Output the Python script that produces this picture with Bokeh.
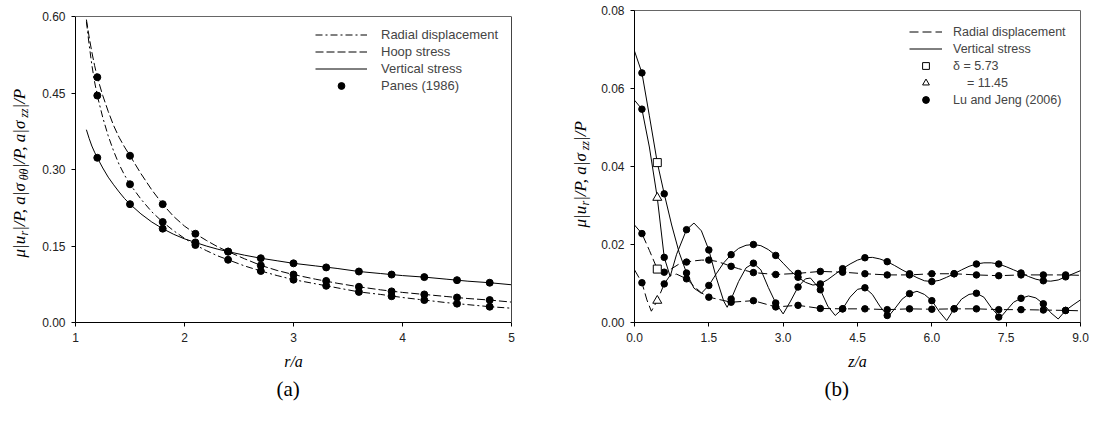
import math
from bokeh.plotting import figure
from bokeh.layouts import row
from bokeh.models import (Range1d, FixedTicker, NumeralTickFormatter, Label, Title,
                          Legend, LegendItem, LinearAxis, Span)
from bokeh.embed import file_html
from bokeh.resources import INLINE

# ---------------- Panel (a) data ----------------
r_curve = [1.1, 1.125, 1.15, 1.175, 1.2, 1.25, 1.3, 1.35, 1.4, 1.45, 1.5, 1.6, 1.7, 1.8,
           1.9, 2.0, 2.1, 2.2, 2.3, 2.4, 2.55, 2.7, 2.85, 3.0, 3.2, 3.4, 3.6, 3.8, 4.0,
           4.2, 4.4, 4.6, 4.8, 5.0]
hoop_curve = [0.594, 0.560, 0.530, 0.504, 0.481, 0.445, 0.414, 0.386, 0.363, 0.344, 0.327,
              0.292, 0.260, 0.232, 0.208, 0.189, 0.174, 0.161, 0.149, 0.139, 0.125, 0.112,
              0.102, 0.094, 0.085, 0.077, 0.070, 0.064, 0.059, 0.055, 0.051, 0.047, 0.044,
              0.040]
radial_curve = [0.590, 0.545, 0.505, 0.472, 0.445, 0.402, 0.366, 0.336, 0.310, 0.289, 0.271,
                0.242, 0.217, 0.197, 0.180, 0.165, 0.152, 0.141, 0.131, 0.123, 0.111, 0.101,
                0.092, 0.084, 0.076, 0.068, 0.060, 0.055, 0.049, 0.044, 0.039, 0.035, 0.031,
                0.028]
vertical_curve = [0.378, 0.361, 0.346, 0.334, 0.323, 0.303, 0.285, 0.270, 0.256, 0.243, 0.232,
                  0.213, 0.197, 0.184, 0.173, 0.164, 0.157, 0.150, 0.144, 0.139, 0.132, 0.126,
                  0.121, 0.116, 0.111, 0.106, 0.100, 0.096, 0.092, 0.089, 0.085, 0.081, 0.078,
                  0.074]
r_dots = [1.2, 1.5, 1.8, 2.1, 2.4, 2.7, 3.0, 3.3, 3.6, 3.9, 4.2, 4.5, 4.8]
hoop_dots = [0.481, 0.327, 0.232, 0.174, 0.139, 0.112, 0.094, 0.0815, 0.070, 0.061, 0.055, 0.049, 0.044]
radial_dots = [0.445, 0.271, 0.197, 0.152, 0.123, 0.101, 0.084, 0.072, 0.060, 0.0515, 0.044, 0.037, 0.031]
vertical_dots = [0.323, 0.232, 0.184, 0.157, 0.139, 0.126, 0.116, 0.108, 0.100, 0.094, 0.089, 0.083, 0.078]

a_xticks = [1, 2, 3, 4, 5]
a_yticks = [0.0, 0.15, 0.30, 0.45, 0.60]

# ---------------- Panel (b) data ----------------
s1_z = [0.0, 0.15, 0.3, 0.46, 0.6, 0.75, 0.9, 1.05, 1.2, 1.35, 1.5, 1.65, 1.8, 1.95, 2.1, 2.25,
        2.4, 2.55, 2.7, 2.85, 3.0, 3.15, 3.3, 3.45, 3.6, 3.75, 3.9, 4.05, 4.2, 4.35, 4.5, 4.65,
        4.8, 4.95, 5.1, 5.25, 5.4, 5.55, 5.7, 5.85, 6.0, 6.15, 6.3, 6.45, 6.6, 6.75, 6.9, 7.05,
        7.2, 7.35, 7.5, 7.65, 7.8, 7.95, 8.1, 8.25, 8.4, 8.55, 8.7, 8.85, 9.0]
s1_v = [0.0696, 0.064, 0.053, 0.041, 0.033, 0.025, 0.018, 0.0127, 0.0088, 0.0075,
        0.0095, 0.0125, 0.0153, 0.0174, 0.019, 0.0198, 0.0200, 0.0197, 0.0187, 0.0172,
        0.0152, 0.0132, 0.0116, 0.0103, 0.0096, 0.0099, 0.011, 0.0124, 0.0138, 0.015,
        0.016, 0.0166, 0.0167, 0.0163, 0.0156, 0.0146, 0.0135, 0.0125, 0.0115, 0.0107,
        0.0105, 0.0108, 0.0116, 0.0125, 0.0135, 0.0144, 0.015, 0.0153, 0.0153, 0.015,
        0.0143, 0.0135, 0.0127, 0.0118, 0.0111, 0.0107, 0.0106, 0.0109, 0.0117, 0.0125, 0.0133]
s2_z = [0.0, 0.15, 0.3, 0.46, 0.6, 0.72, 0.85, 1.05, 1.2, 1.35, 1.5, 1.65, 1.8, 1.87, 1.95, 2.1,
        2.25, 2.4, 2.55, 2.7, 2.85, 3.0, 3.15, 3.3, 3.45, 3.55, 3.75, 3.9, 4.05, 4.2, 4.35, 4.5,
        4.65, 4.8, 4.95, 5.12, 5.25, 5.4, 5.55, 5.7, 5.85, 6.0, 6.15, 6.3, 6.45, 6.6, 6.75, 6.9,
        7.05, 7.2, 7.38, 7.5, 7.65, 7.8, 7.95, 8.1, 8.25, 8.4, 8.55, 8.7, 8.85, 9.0]
s2_v = [0.0570, 0.0547, 0.045, 0.032, 0.0167, 0.0118, 0.0175, 0.0238, 0.0255, 0.0235,
        0.0186, 0.0115, 0.0055, 0.0039, 0.006, 0.0105, 0.014, 0.0152, 0.0135, 0.009,
        0.005, 0.0022, 0.0055, 0.0091, 0.0112, 0.0114, 0.0084, 0.0042, 0.0018, 0.0035,
        0.0065, 0.0085, 0.0089, 0.0072, 0.0042, 0.0015, 0.0035, 0.006, 0.0074, 0.008,
        0.0072, 0.0056, 0.0028, 0.0005, 0.0035, 0.006, 0.0072, 0.0075, 0.0065, 0.0038,
        0.0012, 0.003, 0.0052, 0.0062, 0.0068, 0.0063, 0.0048, 0.0025, 0.0009, 0.0031,
        0.0045, 0.0058]
d1_z = [0.0, 0.15, 0.3, 0.46, 0.6, 0.75, 0.9, 1.05, 1.2, 1.35, 1.5, 1.65, 1.8, 1.95, 2.1, 2.4,
        2.85, 3.3, 3.75, 4.2, 4.65, 5.1, 5.55, 6.0, 6.45, 6.9, 7.35, 7.8, 8.25, 8.7, 9.0]
d1_v = [0.025, 0.0228, 0.0185, 0.0137, 0.0129, 0.0138, 0.015, 0.0155, 0.0158, 0.016,
        0.016, 0.0157, 0.0151, 0.0144, 0.0138, 0.0128, 0.0123, 0.0126, 0.0131, 0.0129,
        0.0125, 0.0122, 0.0122, 0.0125, 0.0125, 0.0122, 0.012, 0.0122, 0.0122, 0.0122, 0.0121]
d2_z = [0.0, 0.15, 0.25, 0.34, 0.46, 0.6, 0.72, 0.85, 1.05, 1.2, 1.35, 1.5, 1.95, 2.4, 2.85,
        3.3, 3.75, 4.2, 4.65, 5.1, 5.55, 6.0, 6.45, 6.9, 7.35, 7.8, 8.25, 8.7, 9.0]
d2_v = [0.0135, 0.0102, 0.0058, 0.0029, 0.0056, 0.0099, 0.0121, 0.0124, 0.0112, 0.0093,
        0.0076, 0.0065, 0.0052, 0.0056, 0.004, 0.0044, 0.0036, 0.0035, 0.0035, 0.0033,
        0.0035, 0.0034, 0.0035, 0.0035, 0.0033, 0.0033, 0.0032, 0.0031, 0.003]

z_dots = [0.15, 0.6, 1.05, 1.5, 1.95, 2.4, 2.85, 3.3, 3.75, 4.2, 4.65, 5.1, 5.55, 6.0, 6.45,
          6.9, 7.35, 7.8, 8.25, 8.7]
s1_dots = [0.064, 0.033, 0.0127, 0.0095, 0.0174, 0.0200, 0.0172, 0.0116, 0.0099, 0.0138,
           0.0166, 0.0156, 0.0125, 0.0105, 0.0125, 0.015, 0.015, 0.0127, 0.0107, 0.0117]
s2_dots = [0.0547, 0.0167, 0.0238, 0.0186, 0.006, 0.0152, 0.005, 0.0091, 0.0084, 0.0035,
           0.0089, 0.0018, 0.0074, 0.0056, 0.0035, 0.0075, 0.0014, 0.0062, 0.0048, 0.0031]
d1_dots = [0.0228, 0.0129, 0.0155, 0.016, 0.0144, 0.0128, 0.0123, 0.0126, 0.0131, 0.0129,
           0.0125, 0.0122, 0.0122, 0.0125, 0.0125, 0.0122, 0.012, 0.0122, 0.0122, 0.0122]
d2_dots = [0.0102, 0.0099, 0.0112, 0.0065, 0.0052, 0.0056, 0.004, 0.0044, 0.0036, 0.0035,
           0.0035, 0.0033, 0.0035, 0.0034, 0.0035, 0.0035, 0.0033, 0.0033, 0.0032, 0.0031]
z_marker = [0.46, 0.46]
square_v = [0.041, 0.0137]      # delta = 5.73
triangle_v = [0.032, 0.0056]    # delta = 11.45

b_xticks = [0.0, 1.5, 3.0, 4.5, 6.0, 7.5, 9.0]
b_yticks = [0.0, 0.02, 0.04, 0.06, 0.08]

# ---------------- layout constants ----------------
SANS = "Liberation Sans"
SERIF = "Liberation Serif"
TOP, BOTTOM, FH = 10, 98, 312          # shared borders / frame height of the row
H = TOP + FH + BOTTOM
A_TOP_GAP = 6                           # panel (a) box starts 6 px lower than panel (b)
W = {'μ': 0.52, '|': 0.275, 'u': 0.5, 'r': 0.389, '/': 0.278, 'P': 0.611, ',': 0.25,
     ' ': 0.25, 'a': 0.5, 'σ': 0.53, 'θ': 0.5, 'z': 0.389}


def style(p, xticks, yticks, xfmt, yfmt):
    p.xgrid.visible = False
    p.ygrid.visible = False
    p.outline_line_color = "#666666"
    p.outline_line_width = 1
    p.background_fill_color = "white"
    p.border_fill_color = "white"
    for ax in (p.xaxis[0], p.yaxis[0]):
        ax.axis_line_color = "black"
        ax.major_tick_line_color = "black"
        ax.major_tick_in = 0
        ax.major_tick_out = 4
        ax.minor_tick_line_color = None
        ax.major_label_text_font = SANS
        ax.major_label_text_font_size = "12px"
        ax.major_label_text_color = "#222222"
        ax.major_label_standoff = 6
    p.xaxis[0].ticker = FixedTicker(ticks=xticks)
    p.yaxis[0].ticker = FixedTicker(ticks=yticks)
    p.xaxis[0].formatter = NumeralTickFormatter(format=xfmt)
    p.yaxis[0].formatter = NumeralTickFormatter(format=yfmt)
    p.xaxis[0].axis_label_text_font = SERIF
    p.xaxis[0].axis_label_text_font_style = "italic"
    p.xaxis[0].axis_label_text_font_size = "16px"
    p.xaxis[0].axis_label_text_color = "black"
    p.xaxis[0].axis_label_standoff = 8


def label_strip(width, segments, y0, xb, main=17, sub=12, shift=4):
    """A narrow, axis-less figure that carries a rotated y-axis title with subscripts."""
    s = figure(width=width, height=H, min_border_left=0, min_border_right=0,
               min_border_top=TOP, min_border_bottom=BOTTOM, x_axis_type=None,
               y_axis_type=None, x_range=Range1d(0, width), y_range=Range1d(0, FH),
               toolbar_location=None, output_backend="svg")
    s.outline_line_color = None
    s.xgrid.visible = False
    s.ygrid.visible = False
    s.background_fill_color = "white"
    s.border_fill_color = "white"
    y = y0
    for text, is_sub in segments:
        size = sub if is_sub else main
        s.add_layout(Label(x=xb + (shift if is_sub else 0), y=y, x_units="screen",
                           y_units="screen", text=text, angle=math.pi / 2,
                           text_font=SERIF, text_font_style="italic",
                           text_font_size=f"{size}px", text_align="left",
                           text_baseline="alphabetic", text_color="black"))
        y += sum(W.get(c, 0.5) for c in text) * size
    return s


def caption(p, text, offset):
    p.add_layout(Title(text=text, align="left", offset=offset, standoff=4,
                       text_font=SERIF, text_font_size="21px", text_font_style="normal",
                       text_color="black"), "below")


# ---------------- Panel (a) ----------------
la = label_strip(32, [("μ|u", False), ("r", True), ("|/P, a|σ", False), ("θθ", True),
                      ("|/P, a|σ", False), ("zz", True), ("|/P", False)], 65, 19)

a_ymax = a_yticks[-1] * FH / (FH - A_TOP_GAP)
pa = figure(frame_width=436, frame_height=FH, min_border_left=43, min_border_right=49,
            min_border_top=TOP, min_border_bottom=BOTTOM, x_range=Range1d(1, 5),
            y_range=Range1d(0, a_ymax), toolbar_location=None, output_backend="svg")
style(pa, a_xticks, a_yticks, "0", "0.00")
pa.outline_line_color = None
pa.yaxis[0].bounds = (a_yticks[0], a_yticks[-1])
pa.xaxis[0].axis_label = "r/a"
pa.add_layout(Span(location=a_yticks[-1], dimension="width", line_color="#666666",
                   line_width=1))
right_a = LinearAxis(bounds=(a_yticks[0], a_yticks[-1]), ticker=FixedTicker(ticks=[]),
                     axis_line_color="#444444", major_tick_line_color=None,
                     minor_tick_line_color=None, major_label_text_font_size="0px")
pa.add_layout(right_a, "right")

ra = pa.line(r_curve, radial_curve, line_color="black", line_width=1, line_dash="7 3 2 3")
ha = pa.line(r_curve, hoop_curve, line_color="black", line_width=1, line_dash="8 3")
va = pa.line(r_curve, vertical_curve, line_color="black", line_width=1)
da = pa.scatter(r_dots, hoop_dots, marker="circle", size=7, color="black")
pa.scatter(r_dots, radial_dots, marker="circle", size=7, color="black")
pa.scatter(r_dots, vertical_dots, marker="circle", size=7, color="black")

leg_a = Legend(items=[LegendItem(label="Radial displacement", renderers=[ra]),
                      LegendItem(label="Hoop stress", renderers=[ha]),
                      LegendItem(label="Vertical stress", renderers=[va]),
                      LegendItem(label="Panes (1986)", renderers=[da])],
               location=(240, 228), label_text_font=SANS, label_text_font_size="13px",
               glyph_width=52, glyph_height=17, label_height=17, label_standoff=14,
               spacing=0, padding=0, margin=0, border_line_alpha=0,
               background_fill_alpha=0)
pa.add_layout(leg_a)
caption(pa, "(a)", 201)

# ---------------- Panel (b) ----------------
lb = label_strip(32, [("μ|u", False), ("r", True), ("|/P, a|σ", False), ("zz", True),
                      ("|/P", False)], 95, 20)

pb = figure(frame_width=446, frame_height=FH, min_border_left=42, min_border_right=11,
            min_border_top=TOP, min_border_bottom=BOTTOM, x_range=Range1d(0, 9),
            y_range=Range1d(0, 0.08), toolbar_location=None, output_backend="svg")
style(pb, b_xticks, b_yticks, "0.0", "0.00")
pb.xaxis[0].axis_label = "z/a"

rb = pb.line(d1_z, d1_v, line_color="black", line_width=1, line_dash="9 4")
pb.line(d2_z, d2_v, line_color="black", line_width=1, line_dash="9 4")
vb = pb.line(s1_z, s1_v, line_color="black", line_width=1)
pb.line(s2_z, s2_v, line_color="black", line_width=1)
db = pb.scatter(z_dots, s1_dots, marker="circle", size=6.5, color="black")
pb.scatter(z_dots, s2_dots, marker="circle", size=6.5, color="black")
pb.scatter(z_dots, d1_dots, marker="circle", size=6.5, color="black")
pb.scatter(z_dots, d2_dots, marker="circle", size=6.5, color="black")
sq = pb.scatter(z_marker, square_v, marker="square", size=8, fill_color="white",
                line_color="black", line_width=1)
tr = pb.scatter(z_marker, triangle_v, marker="triangle", size=9, fill_color="white",
                line_color="black", line_width=1)

leg_b = Legend(items=[LegendItem(label="Radial displacement", renderers=[rb]),
                      LegendItem(label="Vertical stress", renderers=[vb]),
                      LegendItem(label="δ = 5.73", renderers=[sq]),
                      LegendItem(label="\u00a0\u00a0\u00a0\u00a0= 11.45", renderers=[tr]),
                      LegendItem(label="Lu and Jeng (2006)", renderers=[db])],
               location=(275, 214), label_text_font=SANS, label_text_font_size="12.5px",
               glyph_width=33, glyph_height=17, label_height=17, label_standoff=11,
               spacing=0, padding=0, margin=0, border_line_alpha=0,
               background_fill_alpha=0)
pb.add_layout(leg_b)
caption(pb, "(b)", 190)

layout = row(la, pa, lb, pb)
open("out.html", "w").write(file_html(layout, INLINE))
